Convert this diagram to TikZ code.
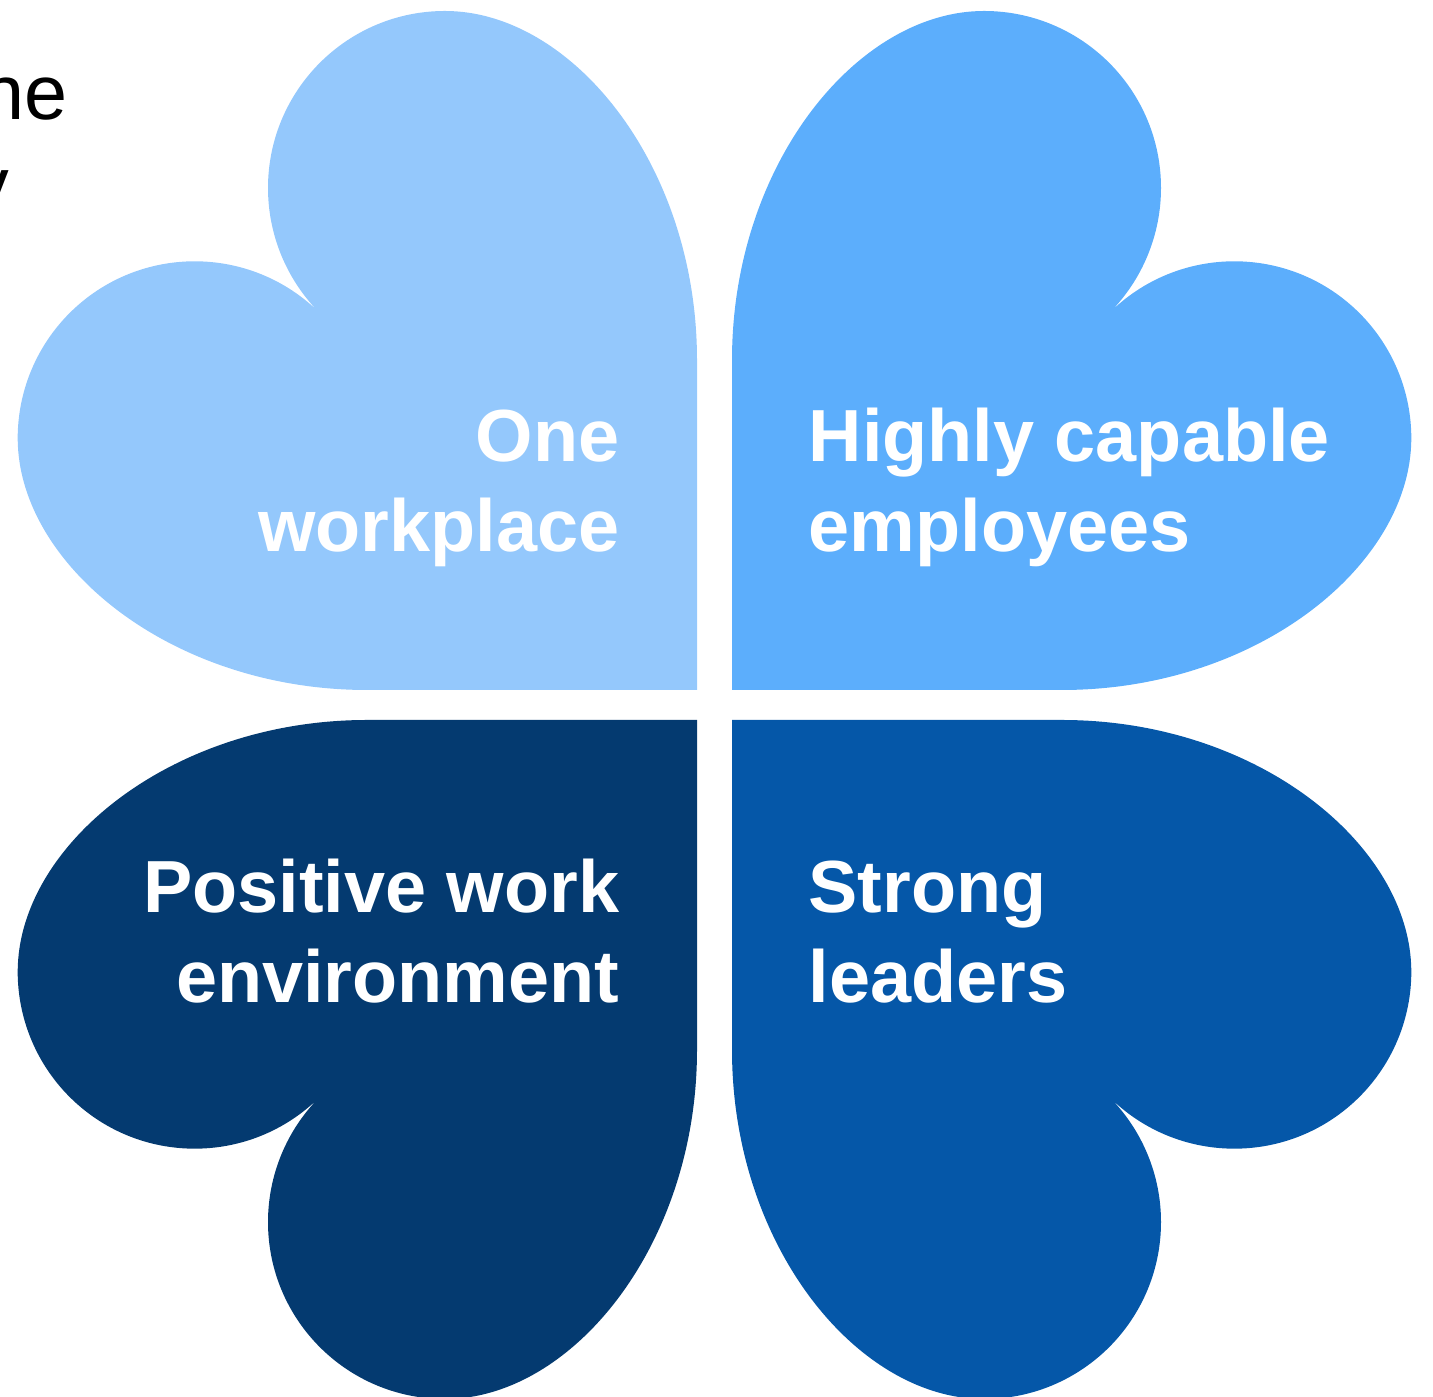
\documentclass[tikz,border=0pt]{standalone}
\usepackage{fontspec}
\setmainfont{Liberation Sans}
\usepackage{tikz}
\usetikzlibrary{positioning}

\definecolor{leafA}{HTML}{94C8FC}
\definecolor{leafB}{HTML}{5CAEFC}
\definecolor{leafC}{HTML}{043A70}
\definecolor{leafD}{HTML}{0557A8}

\begin{document}
\begin{tikzpicture}[
    x=0.01cm, y=0.01cm,
    % one heart, tip at the origin, lobes up and to the right
    leaf/.pic={
      \fill[pic actions] (0,0) -- (0,330) .. controls (0,525) and (125,679) .. (252,679)
        arc[start angle=90, end angle=-45, radius=177]
        arc[start angle=135, end angle=0, radius=177]
        .. controls (679,125) and (525,0) .. (330,0) -- cycle;
    },
    leaftext/.style={text=white, font=\fontsize{21}{25.6}\selectfont\bfseries, inner sep=0pt},
    cuttext/.style={text=black, font=\fontsize{22}{26.4}\selectfont, inner sep=0pt}
  ]
  \useasboundingbox (0,0) rectangle (1433,1397);

  % Four hearts round the centre
  \pic[fill=leafA, xscale=-1] at (697,707) {leaf};
  \pic[fill=leafB] at (732,707) {leaf};
  \pic[fill=leafC, xscale=-1, yscale=-1] at (697,677) {leaf};
  \pic[fill=leafD, yscale=-1] at (732,677) {leaf};

  % Labels (base = baseline of the last line)
  \node[leaftext, align=right, anchor=base east] (one) at (620,845) {One\\workplace};
  \node[leaftext, align=left, anchor=base west] (highly) at (808,845) {Highly capable\\employees};
  \node[leaftext, align=right, anchor=base east] (positive) at (620,394) {Positive work\\environment};
  \node[leaftext, align=left, anchor=base west] (strong) at (808,394) {Strong\\leaders};

  % Text cut off at the left edge
  \node[cuttext, anchor=base east] (ne) at (68,1277) {ne};
  \node[cuttext, anchor=base east] (y) at (10,1185) {y};
\end{tikzpicture}
\end{document}
